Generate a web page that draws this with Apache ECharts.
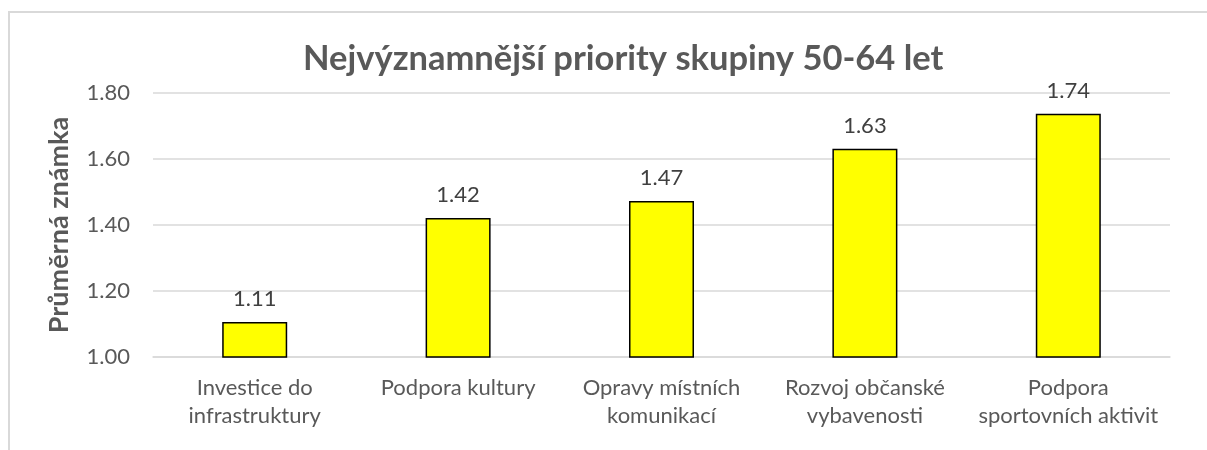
<!DOCTYPE html>
<html>
<head>
<meta charset="utf-8">
<script src="https://cdn.jsdelivr.net/npm/echarts@6/dist/echarts.min.js"></script>
<style>
  body { margin: 0; background: #fff; }
  #frame { position: absolute; left: 8px; top: 11px; width: 1230px; height: 470px; border: 2px solid #d9d9d9; box-sizing: border-box; }
  #chart { position: absolute; left: 0; top: 0; width: 1207px; height: 450px; }
</style>
</head>
<body>
<div id="frame"></div>
<div id="chart"></div>
<script>
// hodnoty
const categories = [
  'Investice do\ninfrastruktury',
  'Podpora kultury',
  'Opravy místních\nkomunikací',
  'Rozvoj občanské\nvybavenosti',
  'Podpora\nsportovních aktivit'
];
const values = [1.106, 1.421, 1.473, 1.631, 1.737];
const yTicks = [1.0, 1.2, 1.4, 1.6, 1.8];

const font = 'Lato, "Open Sans", sans-serif';
var myChart = echarts.init(document.getElementById('chart'), null, { renderer: 'canvas' });

var option = {
  backgroundColor: 'transparent',
  animation: false,
  title: {
    text: 'Nejvýznamnější priority skupiny 50-64 let',
    left: 298,
    top: 36,
    textStyle: { fontFamily: font, fontWeight: 'bold', fontSize: 34.5, color: '#595959' }
  },
  grid: { left: 153, right: 37, top: 93, bottom: 93 },
  xAxis: {
    type: 'category',
    data: categories,
    axisTick: { show: false },
    axisLine: { lineStyle: { color: '#d9d9d9', width: 1.5 } },
    axisLabel: { fontFamily: font, fontSize: 22, color: '#595959', margin: 17, lineHeight: 28, interval: 0 }
  },
  yAxis: {
    type: 'value',
    min: yTicks[0],
    max: yTicks[yTicks.length - 1],
    interval: 0.2,
    name: 'Průměrná známka',
    nameLocation: 'middle',
    nameRotate: 90,
    nameGap: 80,
    nameTextStyle: { fontFamily: font, fontWeight: 'bold', fontSize: 27, color: '#595959' },
    axisLine: { show: false },
    axisTick: { show: false },
    splitLine: { lineStyle: { color: '#d9d9d9', width: 1.5 } },
    axisLabel: {
      fontFamily: font, fontSize: 22, color: '#595959', margin: 23,
      formatter: function (v) { return v.toFixed(2); }
    }
  },
  series: [{
    type: 'bar',
    data: values,
    barWidth: 65,
    itemStyle: { color: '#ffff00', borderColor: '#000', borderWidth: 1.5 },
    label: {
      show: true,
      position: 'top',
      distance: 12,
      fontFamily: font, fontSize: 22, color: '#404040',
      formatter: function (p) { return p.value.toFixed(2); }
    }
  }]
};
myChart.setOption(option);
</script>
</body>
</html>
